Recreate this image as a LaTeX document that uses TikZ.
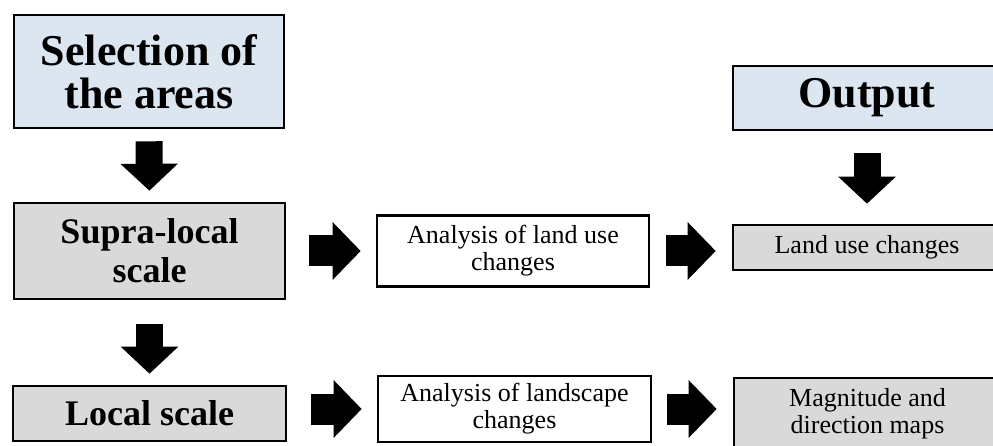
\documentclass[tikz,border=0pt]{standalone}
\usepackage{fontspec}
\setmainfont{Liberation Serif}
\usetikzlibrary{arrows.meta}
\definecolor{boxblue}{HTML}{DCE6F1}
\definecolor{boxgray}{HTML}{D9D9D9}
\tikzset{
  box/.style={draw=black, line width=2.6pt, inner sep=0pt, align=center},
  bluebox/.style={box, fill=boxblue},
  graybox/.style={box, fill=boxgray},
  whitebox/.style={box, fill=white},
  bigtext/.style={font=\bfseries\fontsize{44}{43}\selectfont},
  midtext/.style={font=\bfseries\fontsize{36}{39}\selectfont},
  smalltext/.style={font=\fontsize{26}{27}\selectfont},
  downarrow/.style={draw=black, line width=27pt, -{Triangle[length=27pt, width=56pt]}},
  rightarrow/.style={draw=black, line width=31pt, -{Triangle[length=28pt, width=56pt]}},
}
\begin{document}
\begin{tikzpicture}[x=1pt, y=-1pt]
  \fill[white] (0,0) rectangle (993,446);
  \useasboundingbox (0,0) rectangle (993,446);

  \node[bluebox, bigtext, minimum width=270pt, minimum height=113pt] (sel) at (149,71.5) {Selection of\\the areas};
  \node[graybox, midtext, minimum width=271pt, minimum height=96pt] (supra) at (149.5,251) {Supra-local\\scale};
  \node[graybox, midtext, minimum width=273pt, minimum height=55pt] (local) at (149.5,413.5) {Local scale};

  \node[whitebox, smalltext, minimum width=272pt, minimum height=71pt] (alu) at (513,251) {Analysis of land use\\changes};
  \node[whitebox, smalltext, minimum width=273pt, minimum height=66pt] (als) at (514.5,409) {Analysis of landscape\\changes};

  \node[bluebox, bigtext, minimum width=268pt, minimum height=64pt] (out) at (867,98) {Output};
  \node[graybox, smalltext, minimum width=268pt, minimum height=45pt] (luc) at (867,247.5) {Land use changes};
  \node[graybox, smalltext, minimum width=267pt, minimum height=71pt] (mag) at (867.5,413.5) {Magnitude and\\direction maps};

  \draw[downarrow, shorten <=12pt, shorten >=11pt] (sel.south) -- (supra.north);
  \draw[downarrow, shorten <=24pt, shorten >=11pt] (supra.south) -- (local.north);
  \draw[downarrow, shorten <=22pt, shorten >=20pt] (out.south) -- (luc.north);

  \draw[rightarrow, shorten <=22.5pt, shorten >=15pt] (supra.east) -- (alu.west);
  \draw[rightarrow, shorten <=16pt, shorten >=16pt] (alu.east) -- (alu.east -| luc.west);
  \draw[rightarrow, shorten <=24pt, shorten >=15pt] (local.east |- als.west) -- (als.west);
  \draw[rightarrow, shorten <=15pt, shorten >=16pt] (als.east) -- (als.east -| mag.west);
\end{tikzpicture}
\end{document}
